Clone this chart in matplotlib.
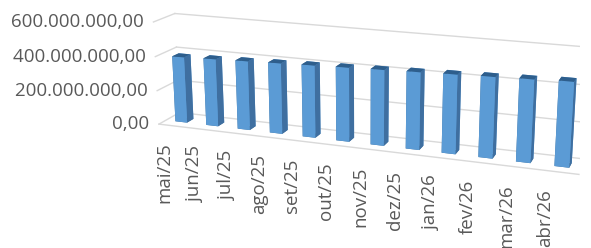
import matplotlib
matplotlib.use('Agg')
import matplotlib.pyplot as plt
import matplotlib.transforms as mtransforms
import numpy as np
from mpl_toolkits.mplot3d import proj3d

months = ['mai/25', 'jun/25', 'jul/25', 'ago/25', 'set/25', 'out/25',
          'nov/25', 'dez/25', 'jan/26', 'fev/26', 'mar/26', 'abr/26']
values = [388e6, 394e6, 400e6, 406e6, 412e6, 418e6,
          424e6, 430e6, 436e6, 442e6, 448e6, 455e6]
ticks = [0, 200e6, 400e6, 600e6]
tick_labels = ['0,00', '200.000.000,00', '400.000.000,00', '600.000.000,00']

plt.rcParams['font.family'] = ['Open Sans', 'DejaVu Sans']

fig = plt.figure(figsize=(5.91, 2.48), dpi=100)
ax = fig.add_axes([0.103, -0.28, 1.0, 1.8], projection='3d')
ax.set_proj_type('persp', focal_length=0.45)
ax.view_init(elev=16, azim=-70)
depth = 1.2
ax.set_box_aspect((12, depth, 3.0), zoom=1.0)
ax.set_axis_off()

n = len(months)
xs = np.arange(n)
bw = 0.38
y0 = 0.4
# face order: -z, +z, -y, +y, -x, +x
face_cols = ['#41719C', '#2E5E8C', '#5B9BD5', '#5B9BD5', '#41719C', '#3F6FA0']
ax.bar3d(xs - bw / 2, np.full(n, y0), np.zeros(n), bw, bw, values,
         color=face_cols * n, shade=False, edgecolor='none')

ax.set_xlim(-0.5, n - 0.5)
ax.set_ylim(0, depth)
ax.set_zlim(0, 600e6)

grid_c = '#D9D9D9'
for t in ticks:
    # back wall and left side wall
    ax.plot([-0.5, n - 0.5], [depth, depth], [t, t], color=grid_c, lw=1)
    ax.plot([-0.5, -0.5], [0, depth], [t, t], color=grid_c, lw=1)
ax.plot([-0.5, n - 0.5], [0, 0], [0, 0], color=grid_c, lw=1)

M = ax.get_proj()
for t, lab in zip(ticks, tick_labels):
    px, py, _ = proj3d.proj_transform(-0.5, 0, t, M)
    ax.text2D(px, py, lab + '  ', transform=ax.transData, ha='right', va='center',
              fontsize=13.5, color='#595959')

# category labels sit a bit below the floor's front edge
lab_trans = mtransforms.offset_copy(ax.transData, fig=fig, y=-8, units='dots')
for x, m in zip(xs, months):
    px, py, _ = proj3d.proj_transform(x - 0.35, 0, -60e6, M)
    ax.text2D(px, py, m, transform=lab_trans, rotation=90, ha='center', va='top',
              fontsize=13.5, color='#595959')

fig.savefig('out.png', dpi=100)
